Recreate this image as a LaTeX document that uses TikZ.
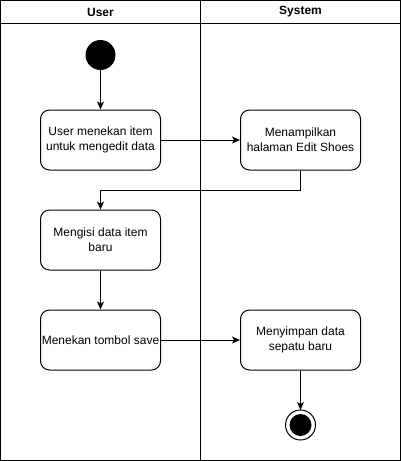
\documentclass[tikz,border=0pt]{standalone}
\usepackage{fontspec}
\setmainfont{Liberation Sans}
\usetikzlibrary{arrows.meta,positioning}
\definecolor{Clane}{HTML}{000000}

\begin{document}
\begin{tikzpicture}[x=1pt,y=-1pt,
	actbox/.style={draw=Clane,line width=1pt,rounded corners=9pt,minimum width=120pt,
		minimum height=60pt,align=center,inner sep=1pt,font=\fontsize{12}{15}\selectfont},
	flow/.style={-{Stealth[length=8pt,width=7pt,inset=2pt]},line width=1pt,Clane}]
	\useasboundingbox (0,0) rectangle (401,461);
	% swimlanes
	\draw[Clane,line width=1pt] (0.5,0.5) rectangle (400.5,460.5);
	\draw[Clane,line width=1pt] (0.5,23.5) -- (400.5,23.5);
	\draw[Clane,line width=1pt] (200.5,0.5) -- (200.5,460.5);
	\node[font=\bfseries\fontsize{12}{14}\selectfont] (laneuser) at (100.5,12) {User};
	\node[font=\bfseries\fontsize{12}{14}\selectfont] (lanesys) at (300.5,12) {System};
	% start and end
	\fill[Clane] (100.5,55) circle (15);
	\coordinate (startbot) at (100.5,70);
	\draw[Clane,line width=1pt] (300.5,425) circle (15);
	\fill[Clane] (300.5,425) circle (11);
	\coordinate (endtop) at (300.5,410);
	% activities
	\node[actbox] (klik) at (100.5,140) {User menekan item\\untuk mengedit data};
	\node[actbox] (tampil) at (300.5,140) {Menampilkan\\halaman Edit Shoes};
	\node[actbox] (isi) at (100.5,240) {Mengisi data item\\baru};
	\node[actbox] (save) at (100.5,340) {Menekan tombol save};
	\node[actbox] (simpan) at (300.5,340) {Menyimpan data\\sepatu baru};
	% flows
	\draw[flow] (startbot) -- (klik);
	\draw[flow] (klik) -- (tampil);
	\draw[flow] (tampil.south) -- ++(0,20) -| (isi.north);
	\draw[flow] (isi) -- (save);
	\draw[flow] (save) -- (simpan);
	\draw[flow] (simpan) -- (endtop);
\end{tikzpicture}
\end{document}
